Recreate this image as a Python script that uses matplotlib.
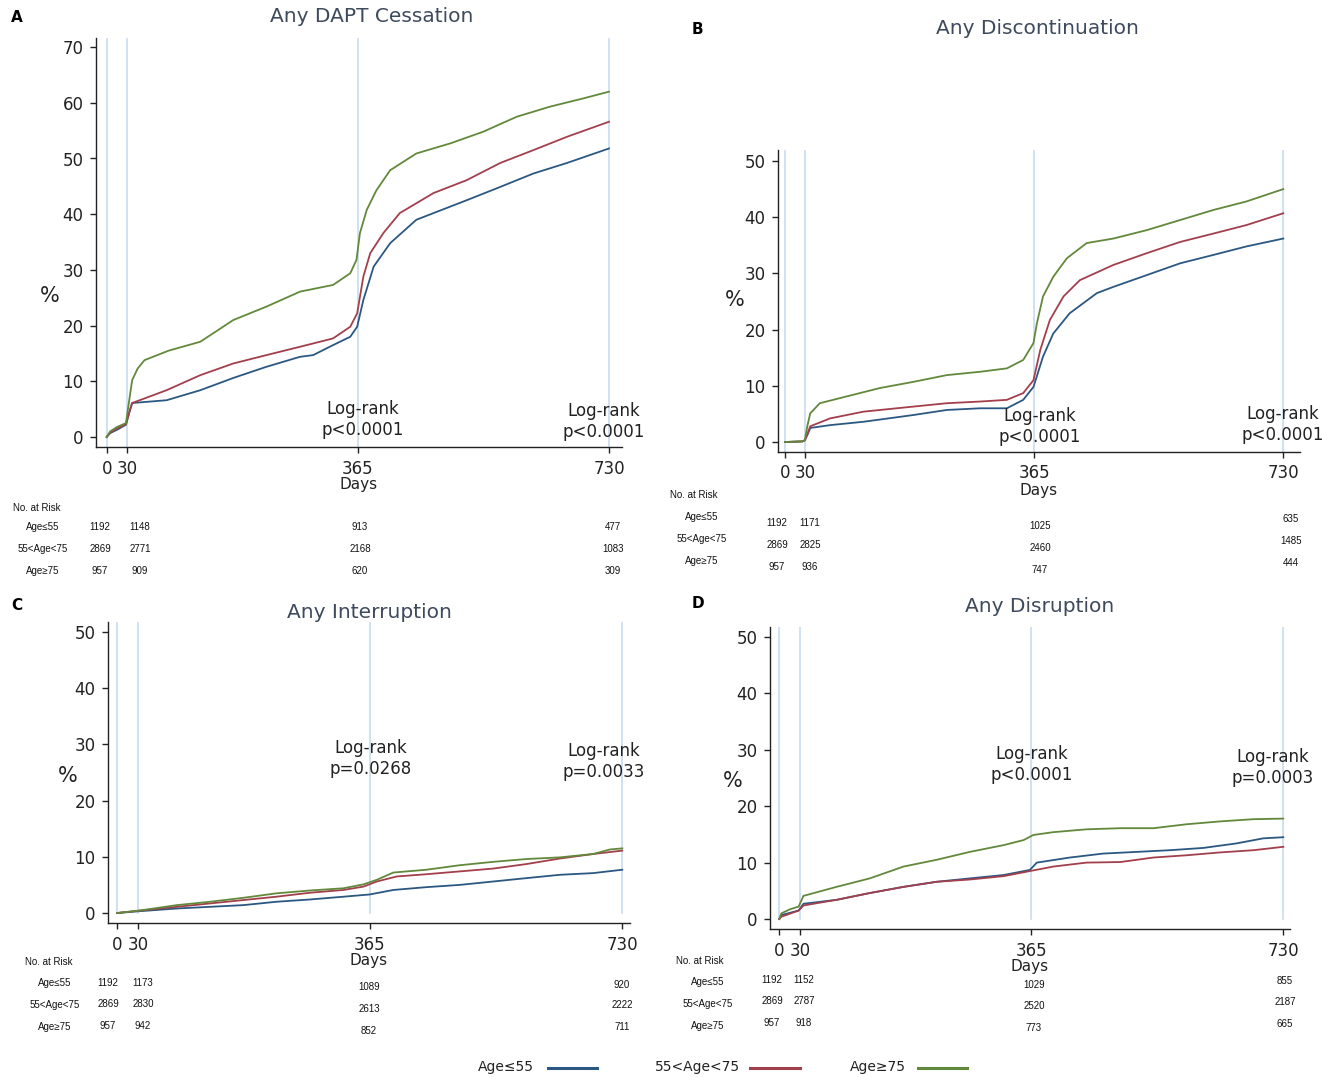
import numpy as np
import matplotlib
matplotlib.use('Agg')
import matplotlib.pyplot as plt

W, H = 1322, 1077

# groups
groups = ['Age≤55', '55<Age<75', 'Age≥75']
colors = ['#2b5882', '#a33f4c', '#62893b']

# --- Panel A: Any DAPT Cessation ---
a_le55_days = [0, 5, 15, 28, 33, 37, 87, 136, 184, 232, 281, 300, 329, 354, 364, 373, 388, 412, 450, 475, 523, 572, 620, 669, 730]
a_le55_vals = [0, 0.7, 1.3, 2.2, 4.5, 6.1, 6.6, 8.4, 10.6, 12.6, 14.4, 14.7, 16.5, 18.0, 19.8, 24.6, 30.6, 34.8, 39.0, 40.2, 42.5, 44.9, 47.3, 49.2, 51.8]
a_mid_days = [0, 5, 15, 28, 33, 37, 87, 136, 184, 232, 281, 329, 354, 364, 373, 383, 402, 426, 475, 523, 572, 620, 669, 730]
a_mid_vals = [0, 0.8, 1.5, 2.3, 4.5, 6.1, 8.4, 11.1, 13.2, 14.7, 16.2, 17.7, 19.8, 22.2, 28.8, 33.0, 36.6, 40.2, 43.8, 46.1, 49.2, 51.5, 53.9, 56.6]
a_ge75_days = [0, 5, 15, 28, 32, 37, 45, 55, 90, 136, 184, 232, 281, 329, 354, 363, 368, 378, 392, 412, 450, 499, 547, 596, 644, 693, 730]
a_ge75_vals = [0, 1.0, 1.8, 2.5, 6.0, 10.2, 12.3, 13.8, 15.5, 17.1, 21.0, 23.4, 26.1, 27.3, 29.4, 31.8, 36.6, 40.8, 44.3, 47.9, 50.9, 52.7, 54.8, 57.5, 59.3, 60.8, 62.0]
a_risk = [[1192, 1148, 913, 477], [2869, 2771, 2168, 1083], [957, 909, 620, 309]]
a_p = ['p<0.0001', 'p<0.0001']

# --- Panel B: Any Discontinuation ---
b_le55_days = [0, 25, 29, 33, 37, 66, 115, 188, 237, 286, 325, 349, 364, 378, 393, 417, 457, 481, 530, 579, 628, 676, 730]
b_le55_vals = [0, 0.1, 0.3, 1.3, 2.5, 3.0, 3.6, 4.8, 5.7, 6.0, 6.0, 7.5, 9.8, 15.2, 19.3, 22.9, 26.5, 27.6, 29.7, 31.8, 33.3, 34.8, 36.2]
b_mid_days = [0, 25, 29, 33, 37, 66, 115, 188, 237, 286, 325, 349, 364, 374, 388, 408, 432, 481, 530, 579, 628, 676, 730]
b_mid_vals = [0, 0.1, 0.3, 1.5, 2.8, 4.2, 5.4, 6.3, 6.9, 7.2, 7.5, 8.7, 11.0, 16.4, 21.7, 25.9, 28.8, 31.5, 33.6, 35.6, 37.1, 38.6, 40.7]
b_ge75_days = [0, 25, 29, 33, 37, 51, 90, 139, 188, 237, 286, 325, 349, 364, 369, 378, 393, 413, 442, 481, 530, 579, 628, 676, 730]
b_ge75_vals = [0, 0.1, 0.3, 3.0, 5.1, 6.9, 8.1, 9.6, 10.7, 11.9, 12.5, 13.1, 14.6, 17.6, 21.1, 25.9, 29.4, 32.7, 35.4, 36.2, 37.7, 39.5, 41.3, 42.8, 45.0]
b_risk = [[1192, 1171, 1025, 635], [2869, 2825, 2460, 1485], [957, 936, 747, 444]]
b_p = ['p<0.0001', 'p<0.0001']

# --- Panel C: Any Interruption ---
c_le55_days = [0, 30, 86, 134, 182, 230, 278, 327, 365, 399, 447, 495, 543, 591, 640, 688, 730]
c_le55_vals = [0, 0.3, 0.8, 1.1, 1.4, 2.0, 2.4, 2.9, 3.3, 4.1, 4.6, 5.0, 5.6, 6.2, 6.8, 7.1, 7.7]
c_mid_days = [0, 30, 86, 134, 182, 230, 278, 327, 356, 375, 404, 447, 495, 543, 591, 640, 688, 730]
c_mid_vals = [0, 0.4, 1.1, 1.7, 2.3, 2.9, 3.6, 4.1, 4.7, 5.6, 6.5, 6.9, 7.4, 7.9, 8.7, 9.7, 10.5, 11.1]
c_ge75_days = [0, 30, 86, 134, 182, 230, 278, 327, 356, 375, 399, 447, 495, 543, 591, 640, 688, 712, 730]
c_ge75_vals = [0, 0.4, 1.4, 2.0, 2.7, 3.5, 4.0, 4.4, 5.1, 5.9, 7.2, 7.7, 8.5, 9.1, 9.6, 9.9, 10.5, 11.3, 11.5]
c_risk = [[1192, 1173, 1089, 920], [2869, 2830, 2613, 2222], [957, 942, 852, 711]]
c_p = ['p=0.0268', 'p=0.0033']

# --- Panel D: Any Disruption ---
d_le55_days = [0, 3, 28, 35, 83, 131, 180, 228, 276, 325, 363, 373, 421, 469, 518, 566, 614, 662, 701, 730]
d_le55_vals = [0, 0.7, 1.5, 2.7, 3.4, 4.6, 5.7, 6.6, 7.2, 7.8, 8.7, 10.0, 10.9, 11.6, 11.9, 12.2, 12.6, 13.4, 14.3, 14.5]
d_mid_days = [0, 3, 28, 35, 83, 131, 180, 228, 276, 325, 363, 397, 445, 494, 542, 590, 638, 687, 730]
d_mid_vals = [0, 0.4, 1.5, 2.4, 3.4, 4.6, 5.7, 6.6, 7.0, 7.6, 8.5, 9.3, 10.0, 10.1, 10.9, 11.3, 11.8, 12.2, 12.8]
d_ge75_days = [0, 3, 15, 28, 35, 83, 131, 180, 228, 276, 325, 354, 368, 397, 445, 494, 542, 590, 638, 687, 730]
d_ge75_vals = [0, 1.0, 1.7, 2.2, 4.1, 5.7, 7.2, 9.3, 10.5, 11.9, 13.1, 14.0, 14.9, 15.4, 15.9, 16.1, 16.1, 16.8, 17.3, 17.7, 17.8]
d_risk = [[1192, 1152, 1029, 855], [2869, 2787, 2520, 2187], [957, 918, 773, 665]]
d_p = ['p<0.0001', 'p=0.0003']

tick_days = [0, 30, 365, 730]

fig = plt.figure(figsize=(W / 100, H / 100), dpi=100)
plt.rcParams['font.family'] = ['DejaVu Sans']


def px(x, y):
    return x / W, 1 - y / H


def draw_panel(box, ylim, yticks, title, letter, series, risk, pvals, layout):
    left, top, right, bottom = box
    ax = fig.add_axes([left / W, 1 - bottom / H, (right - left) / W, (bottom - top) / H])
    x0 = layout['x0']
    x730 = layout['x730']
    per_day = (x730 - x0) / 730.0
    ax.set_xlim((left - x0) / per_day, (right - x0) / per_day)
    ax.set_ylim(*ylim)
    for d in tick_days:
        ax.plot([d, d], [layout['vl_bottom'], ylim[1]], color='#c5d8ee', lw=1.1, zorder=1)
    for (days, vals), c in zip(series, colors):
        ax.plot(days, vals, color=c, lw=1.3, zorder=3)
    for s in ['top', 'right']:
        ax.spines[s].set_visible(False)
    for s in ['left', 'bottom']:
        ax.spines[s].set_linewidth(1.0)
        ax.spines[s].set_color('#222222')
    ax.set_xticks(tick_days)
    ax.set_xticklabels(['0', '30', '365', '730'])
    ax.set_yticks(yticks)
    ax.tick_params(axis='both', direction='out', length=4, width=1, labelsize=12,
                   colors='#222222', pad=5)
    ax.set_xlabel('Days', fontsize=11, labelpad=0, color='#222222')
    # titles and labels
    fig.text(*px(*layout['title']), title, fontsize=14.5, color='#3e4a5c', ha='center', va='center')
    fig.text(*px(*layout['letter']), letter, fontsize=11, fontweight='bold', ha='left', va='center')
    fig.text(*px(*layout['pct']), '%', fontsize=15, ha='center', va='center', color='#222222')
    for (lx, ly), p in zip(layout['logrank'], pvals):
        fig.text(*px(lx, ly), 'Log-rank', fontsize=12, ha='center', va='center', color='#222222')
        fig.text(*px(lx, ly + 21), p, fontsize=12, ha='center', va='center', color='#222222')
    # number at risk table
    tfont = dict(family='Liberation Sans', fontsize=7, color='#111111', va='center')
    fig.text(*px(*layout['nar']), 'No. at Risk', ha='left', **tfont)
    for i, g in enumerate(groups):
        fig.text(*px(layout['lab_x'], layout['lab_rows'][i]), g, ha='center', **tfont)
        for j, n in enumerate(risk[i]):
            y = layout['rows'][i] + layout['col_dy'][j]
            fig.text(*px(layout['cols'][j], y), str(n), ha='center', **tfont)
    return ax


draw_panel((96, 38, 622, 447), ((437 - 447) / 5.57, (437 - 38) / 5.57), range(0, 71, 10),
           'Any DAPT Cessation', 'A',
           [(a_le55_days, a_le55_vals), (a_mid_days, a_mid_vals), (a_ge75_days, a_ge75_vals)],
           a_risk, a_p,
           dict(x0=106.7, x730=609, vl_bottom=-5, title=(372, 17), letter=(11, 18), pct=(50, 296),
                logrank=[(363, 409), (604, 411)], nar=(13, 508), lab_x=43,
                lab_rows=[527, 549, 571], rows=[527, 549, 571], col_dy=[0, 0, 0, 0],
                cols=[100, 140, 360, 613]))

draw_panel((778, 150, 1300, 452), ((442 - 452) / 5.62, (442 - 150) / 5.62), range(0, 51, 10),
           'Any Discontinuation', 'B',
           [(b_le55_days, b_le55_vals), (b_mid_days, b_mid_vals), (b_ge75_days, b_ge75_vals)],
           b_risk, b_p,
           dict(x0=785, x730=1283.3, vl_bottom=-5, title=(1037, 28), letter=(692, 29), pct=(735, 300),
                logrank=[(1040, 416), (1283, 414)], nar=(670, 495), lab_x=702,
                lab_rows=[517, 539, 561], rows=[523, 545, 567], col_dy=[0, 0, 3, -4],
                cols=[777, 810, 1040, 1291]))

draw_panel((108, 622, 630, 923), ((913 - 923) / 5.62, (913 - 622) / 5.62), range(0, 51, 10),
           'Any Interruption', 'C',
           [(c_le55_days, c_le55_vals), (c_mid_days, c_mid_vals), (c_ge75_days, c_ge75_vals)],
           c_risk, c_p,
           dict(x0=117.3, x730=622.3, vl_bottom=0, title=(369, 612), letter=(11, 605), pct=(68, 776),
                logrank=[(371, 748), (604, 751)], nar=(25, 962), lab_x=55,
                lab_rows=[983, 1005, 1027], rows=[983, 1004, 1026], col_dy=[0, 0, 4.5, 1.5],
                cols=[108, 143, 369, 622]))

draw_panel((770, 627, 1290, 929), ((919 - 929) / 5.64, (919 - 627) / 5.64), range(0, 51, 10),
           'Any Disruption', 'D',
           [(d_le55_days, d_le55_vals), (d_mid_days, d_mid_vals), (d_ge75_days, d_ge75_vals)],
           d_risk, d_p,
           dict(x0=779.3, x730=1283.3, vl_bottom=0, title=(1040, 607), letter=(692, 603), pct=(733, 781),
                logrank=[(1032, 754), (1273, 757)], nar=(676, 961), lab_x=708,
                lab_rows=[982, 1004, 1026], rows=[980, 1001, 1023], col_dy=[0, 0, 5, 1],
                cols=[772, 804, 1034, 1285]))

# legend along the bottom
leg = [(478, 548, 597), (655, 750, 800), (850, 918, 967)]
for (tx, l0, l1), g, c in zip(leg, groups, colors):
    fig.text(*px(tx, 1067), g, fontsize=10, ha='left', va='center', color='#222222')
    fig.add_artist(plt.Line2D([l0 / W, l1 / W], [1 - 1068 / H, 1 - 1068 / H], color=c, lw=2.2))

fig.savefig('out.png', dpi=100, facecolor='white')
